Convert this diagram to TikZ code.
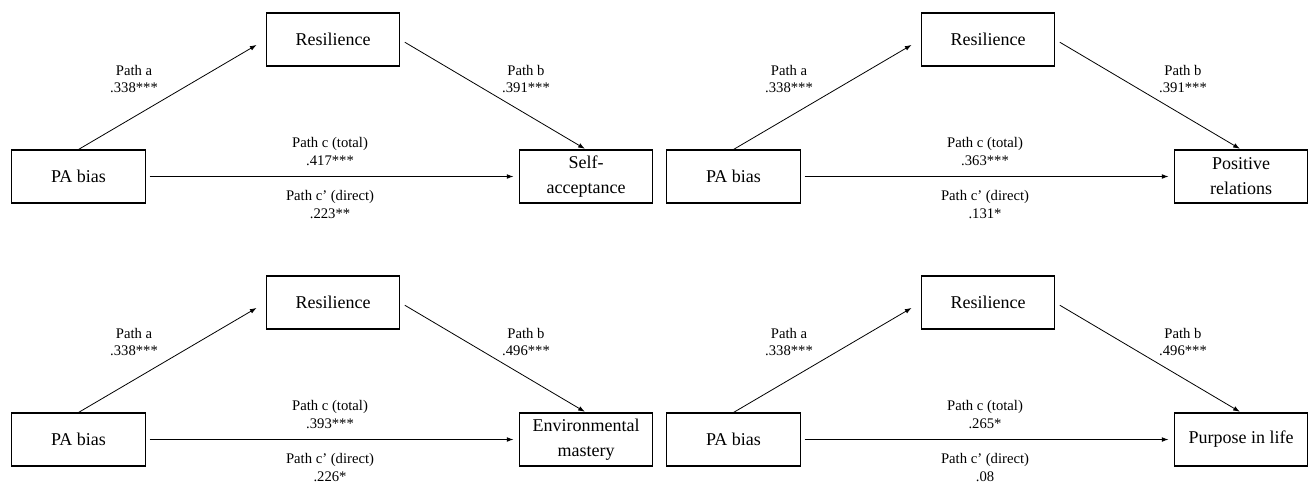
\documentclass[tikz,border=0pt]{standalone}
\usepackage{fontspec}
\setmainfont{Liberation Serif}
\usepackage{tikz}
\usetikzlibrary{arrows.meta,positioning}

\tikzset{
    box/.style={draw, line width=0.8pt, minimum width=100pt, minimum height=39.75pt,
        align=center, font=\fontsize{13.5pt}{18.75pt}\selectfont},
    lbl/.style={align=center, inner sep=0pt, font=\fontsize{11pt}{13pt}\selectfont},
    arr/.style={-{Latex[length=5pt,width=3.6pt]}, line width=0.6pt},
}

\begin{document}
\begin{tikzpicture}[x=0.75pt,y=-0.75pt]
    \useasboundingbox (0,0) rectangle (1308,482);

    % top left: self-acceptance
    \begin{scope}
        \node[box] (res1) at (333,39.5) {Resilience};
        \node[box] (pa1) at (78.5,176.5) {PA bias};
        \node[box] (out1) at (586,176.5) {Self-\\acceptance};

        \draw[arr, shorten >=8pt] (pa1.north) -- (res1.west);
        \draw[arr, shorten <=4pt, shorten >=1pt] (res1.east) -- (out1.north);
        \draw[arr, shorten <=3pt, shorten >=4pt] (pa1.east) -- (out1.west);

        \node[lbl] (la1) at (134,79) {Path a\\.338***};
        \node[lbl] (lb1) at (526,79) {Path b\\.391***};
        \node[lbl] (lc1) at (330,151.5) {Path c (total)\\.417***};
        \node[lbl] (ld1) at (330,204.5) {Path c’ (direct)\\.223**};
    \end{scope}

    % top right: positive relations
    \begin{scope}[shift={(655,0)}]
        \node[box] (res2) at (333,39.5) {Resilience};
        \node[box] (pa2) at (78.5,176.5) {PA bias};
        \node[box] (out2) at (586,176.5) {Positive\\relations};

        \draw[arr, shorten >=8pt] (pa2.north) -- (res2.west);
        \draw[arr, shorten <=4pt, shorten >=1pt] (res2.east) -- (out2.north);
        \draw[arr, shorten <=3pt, shorten >=4pt] (pa2.east) -- (out2.west);

        \node[lbl] (la2) at (134,79) {Path a\\.338***};
        \node[lbl] (lb2) at (528,79) {Path b\\.391***};
        \node[lbl] (lc2) at (330,151.5) {Path c (total)\\.363***};
        \node[lbl] (ld2) at (330,204.5) {Path c’ (direct)\\.131*};
    \end{scope}

    % bottom left: environmental mastery
    \begin{scope}[shift={(0,263)}]
        \node[box] (res3) at (333,39.5) {Resilience};
        \node[box] (pa3) at (78.5,176.5) {PA bias};
        \node[box] (out3) at (586,176.5) {Environmental\\mastery};

        \draw[arr, shorten >=8pt] (pa3.north) -- (res3.west);
        \draw[arr, shorten <=4pt, shorten >=1pt] (res3.east) -- (out3.north);
        \draw[arr, shorten <=3pt, shorten >=4pt] (pa3.east) -- (out3.west);

        \node[lbl] (la3) at (134,79) {Path a\\.338***};
        \node[lbl] (lb3) at (526,79) {Path b\\.496***};
        \node[lbl] (lc3) at (330,151.5) {Path c (total)\\.393***};
        \node[lbl] (ld3) at (330,204.5) {Path c’ (direct)\\.226*};
    \end{scope}

    % bottom right: purpose in life
    \begin{scope}[shift={(655,263)}]
        \node[box] (res4) at (333,39.5) {Resilience};
        \node[box] (pa4) at (78.5,176.5) {PA bias};
        \node[box] (out4) at (586,176.5) {Purpose in life};

        \draw[arr, shorten >=8pt] (pa4.north) -- (res4.west);
        \draw[arr, shorten <=4pt, shorten >=1pt] (res4.east) -- (out4.north);
        \draw[arr, shorten <=3pt, shorten >=4pt] (pa4.east) -- (out4.west);

        \node[lbl] (la4) at (134,79) {Path a\\.338***};
        \node[lbl] (lb4) at (528,79) {Path b\\.496***};
        \node[lbl] (lc4) at (330,151.5) {Path c (total)\\.265*};
        \node[lbl] (ld4) at (330,204.5) {Path c’ (direct)\\.08};
    \end{scope}
\end{tikzpicture}
\end{document}
